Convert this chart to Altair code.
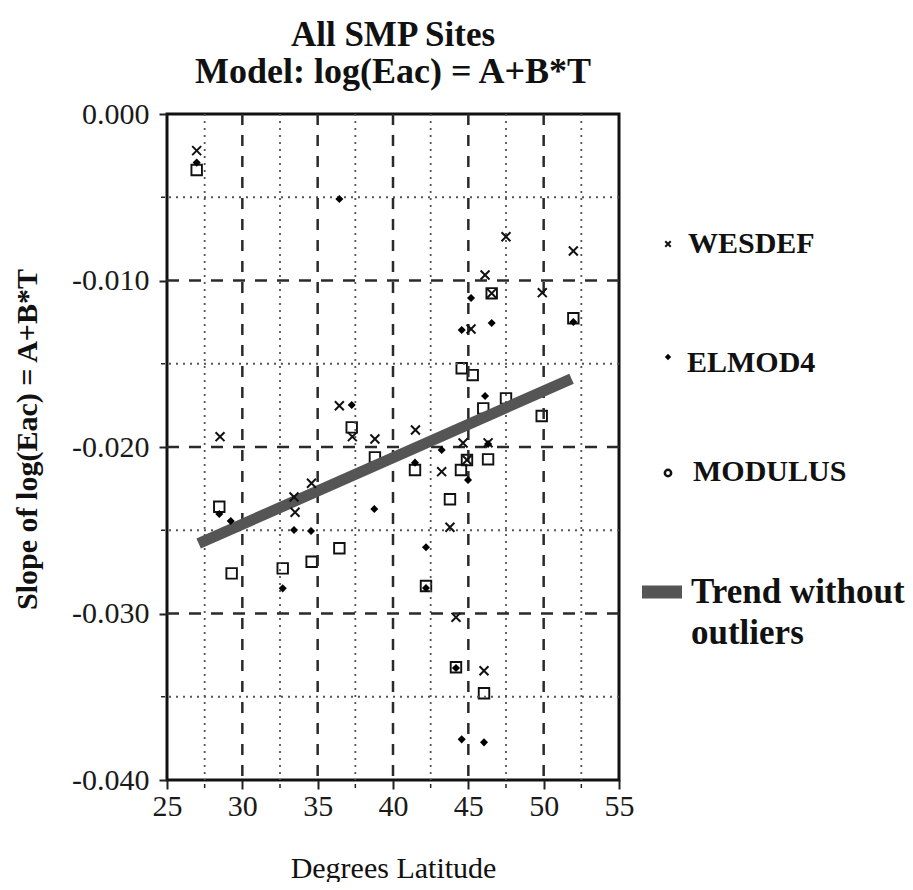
import altair as alt
import pandas as pd

# ---------------- data ----------------
wes_lat = [26.97, 47.50, 51.97, 46.11, 49.91, 45.18, 36.44, 37.30, 28.52, 38.80,
           41.49, 44.65, 34.59, 33.43, 33.50, 43.23, 44.91, 43.78, 44.18, 46.04,
           46.31, 46.55]
wes_val = [-0.00220, -0.00737, -0.00823, -0.00967, -0.01073, -0.01291, -0.01752,
           -0.01938, -0.01938, -0.01952, -0.01898, -0.01976, -0.02218, -0.02300,
           -0.02392, -0.02148, -0.02078, -0.02482, -0.03023, -0.03344, -0.01975,
           -0.01077]

elm_lat = [26.97, 36.44, 45.18, 51.97, 44.56, 46.55, 37.26, 46.11, 28.47, 29.23,
           38.76, 33.43, 34.56, 32.68, 43.23, 46.31, 41.46, 44.98, 42.19, 44.18,
           44.56, 46.04, 42.19]
elm_val = [-0.00292, -0.00511, -0.01105, -0.01249, -0.01297, -0.01255, -0.01748,
           -0.01694, -0.02402, -0.02444, -0.02372, -0.02498, -0.02505, -0.02849,
           -0.02018, -0.01982, -0.02094, -0.02198, -0.02602, -0.03327, -0.03756,
           -0.03774, -0.02847]

mod_lat = [26.97, 51.97, 46.55, 44.56, 45.29, 47.50, 45.99, 49.87, 37.26, 38.80,
           28.47, 36.44, 34.60, 32.68, 29.29, 46.31, 41.46, 44.51, 44.91, 43.78,
           42.19, 44.18, 46.04]
mod_val = [-0.00336, -0.01227, -0.01077, -0.01527, -0.01568, -0.01708, -0.01768,
           -0.01814, -0.01882, -0.02062, -0.02359, -0.02608, -0.02689, -0.02729,
           -0.02759, -0.02074, -0.02138, -0.02138, -0.02078, -0.02314, -0.02835,
           -0.03323, -0.03479]

trend_lat = [27.1, 51.85]
trend_val = [-0.0258, -0.0159]

x_ticks = [25, 30, 35, 40, 45, 50, 55]
x_major_grid = [30, 35, 40, 45, 50]
x_minor_grid = [27.5, 32.5, 37.5, 42.5, 47.5, 52.5]
y_ticks = [0.0, -0.01, -0.02, -0.03, -0.04]
y_major_grid = [-0.01, -0.02, -0.03]
y_minor_grid = [-0.005, -0.015, -0.025, -0.035]

legend_labels = ["WESDEF", "ELMOD4", "MODULUS", "Trend without", "outliers"]

title_line1 = "All SMP Sites"
title_line2 = "Model: log(Eac) = A+B*T"
x_title = "Degrees Latitude"
y_title = "Slope of log(Eac) = A+B*T"

# ---------------- chart ----------------
SERIF = "Liberation Serif"
W, H = 452, 666

xscale = alt.Scale(domain=[25, 55], nice=False, zero=False)
yscale = alt.Scale(domain=[-0.04, 0.0], nice=False, zero=False)

def vdf(vals):
    return pd.DataFrame({"v": vals})

xgrid_major = alt.Chart(vdf(x_major_grid)).mark_rule(
    color="#2a2a2a", strokeWidth=2.5, strokeDash=[11, 10]
).encode(x=alt.X("v:Q", scale=xscale))

xgrid_minor = alt.Chart(vdf(x_minor_grid)).mark_rule(
    color="#555555", strokeWidth=1.8, strokeDash=[2, 5]
).encode(x=alt.X("v:Q", scale=xscale))

ygrid_major = alt.Chart(vdf(y_major_grid)).mark_rule(
    color="#2a2a2a", strokeWidth=2.5, strokeDash=[12, 10]
).encode(y=alt.Y("v:Q", scale=yscale))

ygrid_minor = alt.Chart(vdf(y_minor_grid)).mark_rule(
    color="#555555", strokeWidth=1.8, strokeDash=[2, 5]
).encode(y=alt.Y("v:Q", scale=yscale))

x_minor_ticks = alt.Chart(vdf(x_minor_grid)).mark_rule(
    color="#222222", strokeWidth=1.5
).encode(x=alt.X("v:Q", scale=xscale),
         y=alt.value(H + 4), y2=alt.value(H + 8))

y_minor_ticks = alt.Chart(vdf(y_minor_grid)).mark_rule(
    color="#222222", strokeWidth=1.5
).encode(y=alt.Y("v:Q", scale=yscale),
         x=alt.value(-6), x2=alt.value(-2))

trend_df = pd.DataFrame({"lat": trend_lat, "val": trend_val})
trend = alt.Chart(trend_df).mark_line(
    color="#555555", strokeWidth=11, strokeCap="butt"
).encode(x=alt.X("lat:Q", scale=xscale),
         y=alt.Y("val:Q", scale=yscale))

xaxis = alt.Axis(values=x_ticks, labelFont=SERIF, labelFontSize=30, labelColor="#1a1a1a",
                 tickColor="#222222", tickSize=9, tickWidth=2, domain=False, grid=False,
                 labelPadding=2, labelFlush=False,
                 title=x_title, titleFont=SERIF, titleFontSize=30, titleFontWeight="normal",
                 titleColor="#111111", titleX=W / 2, titleY=88, titleBaseline="middle",
                 titleAlign="center")
yaxis = alt.Axis(values=y_ticks,
                 labelExpr="replace(format(datum.value, '.3f'), '\u2212', '-')",
                 labelFont=SERIF, labelFontSize=30, labelColor="#1a1a1a",
                 tickColor="#222222", tickSize=8, tickWidth=2, domain=False, grid=False,
                 labelPadding=10, labelFlush=False,
                 title=y_title, titleFont=SERIF, titleFontSize=30, titleFontWeight="bold",
                 titleColor="#111111", titleX=-140, titleY=325, titleAngle=-90,
                 titleBaseline="middle", titleAlign="center")

wes_df = pd.DataFrame({"lat": wes_lat, "val": wes_val})
elm_df = pd.DataFrame({"lat": elm_lat, "val": elm_val})
mod_df = pd.DataFrame({"lat": mod_lat, "val": mod_val})

XPATH = "M-1,-1L1,1M1,-1L-1,1"

mod_pts = alt.Chart(mod_df).mark_point(
    shape="square", filled=False, color="#111111", strokeWidth=1.9, size=110, opacity=1
).encode(x=alt.X("lat:Q", scale=xscale, axis=xaxis),
         y=alt.Y("val:Q", scale=yscale, axis=yaxis))

wes_pts = alt.Chart(wes_df).mark_point(
    shape=XPATH, filled=False, color="#111111", strokeWidth=2, size=80, opacity=1
).encode(x=alt.X("lat:Q", scale=xscale),
         y=alt.Y("val:Q", scale=yscale))

elm_pts = alt.Chart(elm_df).mark_point(
    shape="diamond", filled=True, color="#000000", size=65, opacity=1
).encode(x=alt.X("lat:Q", scale=xscale),
         y=alt.Y("val:Q", scale=yscale))

# ---------------- legend (drawn beside the plot) ----------------
one = pd.DataFrame({"k": [0]})

def leg_text(label, x, y, size=30):
    return alt.Chart(one).mark_text(
        font=SERIF, fontSize=size, fontWeight="bold", align="left", baseline="middle",
        color="#111111"
    ).encode(x=alt.value(x), y=alt.value(y), text=alt.value(label))

leg_wes_sym = alt.Chart(one).mark_point(
    shape=XPATH, filled=False, color="#111111", strokeWidth=2, size=30, opacity=1
).encode(x=alt.value(501), y=alt.value(130))
leg_elm_sym = alt.Chart(one).mark_point(
    shape="diamond", filled=True, color="#000000", size=40, opacity=1
).encode(x=alt.value(501), y=alt.value(243))
leg_mod_sym = alt.Chart(one).mark_point(
    shape="circle", filled=False, color="#111111", strokeWidth=2.5, size=40, opacity=1
).encode(x=alt.value(501), y=alt.value(359))
leg_trend_sym = alt.Chart(one).mark_rule(
    color="#555555", strokeWidth=13, strokeCap="butt"
).encode(x=alt.value(475), x2=alt.value(515), y=alt.value(478))

legend_layers = [
    leg_wes_sym, leg_text(legend_labels[0], 521, 130),
    leg_elm_sym, leg_text(legend_labels[1], 520, 249),
    leg_mod_sym, leg_text(legend_labels[2], 526, 358),
    leg_trend_sym, leg_text(legend_labels[3], 524, 478, 35),
    leg_text(legend_labels[4], 524, 519, 35),
]

chart = alt.layer(
    mod_pts,
    xgrid_minor, ygrid_minor, xgrid_major, ygrid_major,
    x_minor_ticks, y_minor_ticks,
    trend, wes_pts, elm_pts,
    *legend_layers
).properties(
    width=W, height=H,
    autosize=alt.AutoSizeParams(type="none"),
    padding={"left": 159, "top": 106, "right": 286, "bottom": 102},
    title=alt.TitleParams(
        text=title_line1, subtitle=title_line2,
        font=SERIF, fontSize=35, fontWeight="bold", color="#111111",
        subtitleFont=SERIF, subtitleFontSize=36, subtitleFontWeight="bold",
        subtitleColor="#111111", subtitlePadding=2, anchor="middle", offset=9
    )
).configure_view(
    stroke="#111111", strokeWidth=3
).configure_axis(grid=False)

chart.save("out.html", embed_options={"renderer": "svg", "actions": False})
